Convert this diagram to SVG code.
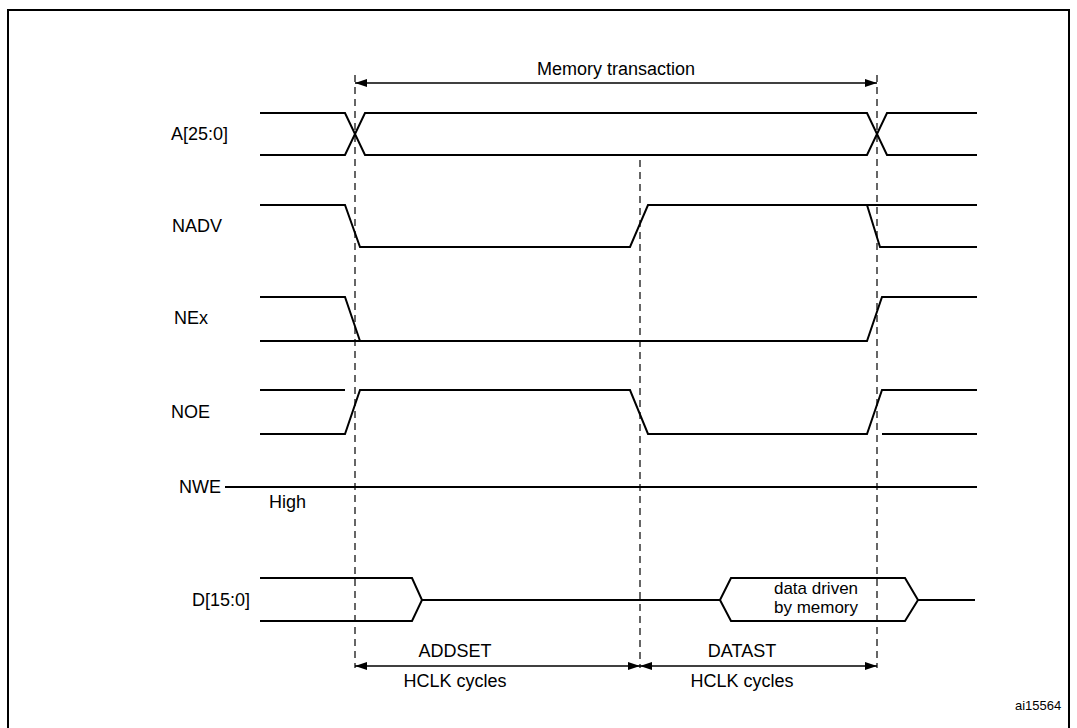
<svg xmlns="http://www.w3.org/2000/svg" width="1077" height="728" viewBox="0 0 1077 728">
<style>
.s{fill:none;stroke:#000;stroke-width:2}
.d{fill:none;stroke:#000;stroke-width:1.2;stroke-dasharray:7,5}
.a{fill:none;stroke:#000;stroke-width:1.5}
text{font-family:"Liberation Sans",Arial,sans-serif;font-size:18px;fill:#000}
.l{text-anchor:end}
.c{text-anchor:middle}
</style>
<defs>
<marker id="ah" markerWidth="12" markerHeight="8" refX="12" refY="4" orient="auto-start-reverse" markerUnits="userSpaceOnUse"><path d="M0,0L12,4L0,8z" fill="#000"/></marker>
</defs>
<rect x="0" y="0" width="1077" height="728" fill="#fff"/>
<path d="M8,728V10H1069V728" fill="none" stroke="#000" stroke-width="2"/>
<g id="connectors">
<line class="d" x1="355" y1="75" x2="355" y2="668"/>
<line class="d" x1="640" y1="160" x2="640" y2="668"/>
<line class="d" x1="877" y1="75" x2="877" y2="668"/>
<line class="a" x1="355" y1="83" x2="877" y2="83" marker-start="url(#ah)" marker-end="url(#ah)"/>
<line class="a" x1="355" y1="666" x2="640" y2="666" marker-start="url(#ah)" marker-end="url(#ah)"/>
<line class="a" x1="640" y1="666" x2="877" y2="666" marker-start="url(#ah)" marker-end="url(#ah)"/>
</g>
<g id="labels">
<text class="c" x="616" y="75">Memory transaction</text>
<text class="c" x="455" y="657">ADDSET</text>
<text class="c" x="455" y="687">HCLK cycles</text>
<text class="c" x="742" y="657">DATAST</text>
<text class="c" x="742" y="687">HCLK cycles</text>
<text x="1015" y="710" style="font-size:13px">ai15564</text>
</g>
<g id="A">
<text class="l" x="228" y="140">A[25:0]</text>
<path class="s" d="M260,113H345L365,155H867L887,113H977M260,155H345L365,113H867L887,155H977"/>
</g>
<g id="NADV">
<text class="l" x="222" y="232">NADV</text>
<path class="s" d="M260,205H345L360,247H630L648,205H867L880,247H977M867,205H977"/>
</g>
<g id="NEx">
<text class="l" x="208" y="324">NEx</text>
<path class="s" d="M260,297H345L360,341M260,341H867L882,297H977"/>
</g>
<g id="NOE">
<text class="l" x="210" y="418">NOE</text>
<path class="s" d="M260,434H345L360,390H630L648,434H867L882,390H977M260,390H345M882,434H977"/>
</g>
<g id="NWE">
<text class="l" x="221" y="493">NWE</text>
<text x="269" y="508">High</text>
<path class="s" d="M225,487H977"/>
</g>
<g id="D">
<text class="l" x="250" y="606">D[15:0]</text>
<path class="s" d="M260,578H412L422,600L412,621H260M422,600H720L731,578H905L918,600L905,621H731L720,600M918,600H975"/>
<text class="c" x="816" y="594" style="font-size:17px">data driven</text>
<text class="c" x="816" y="613" style="font-size:17px">by memory</text>
</g>
</svg>
